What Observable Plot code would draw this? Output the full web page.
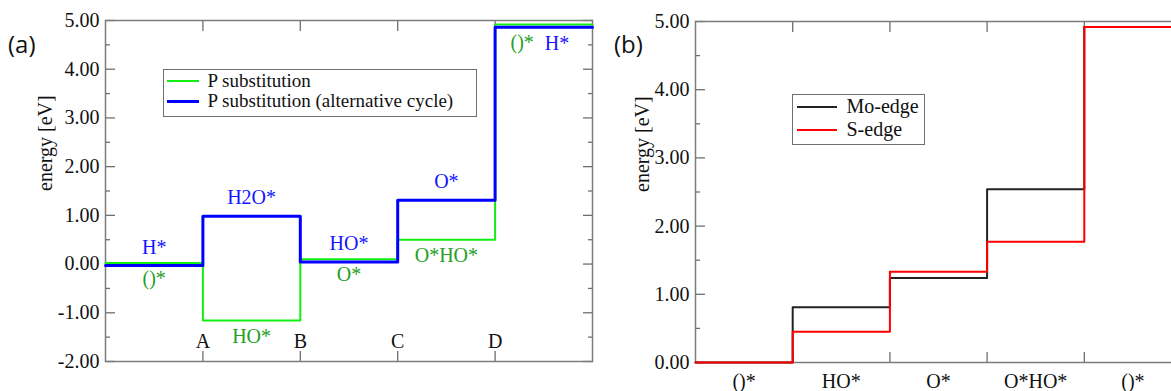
<!DOCTYPE html>
<html><head><meta charset="utf-8">
<script src="https://cdn.jsdelivr.net/npm/d3@7"></script>
<script src="https://cdn.jsdelivr.net/npm/@observablehq/plot@0.6"></script>
<style>
html,body{margin:0;padding:0;background:#fff;overflow:hidden;}
#wrap{position:relative;width:1171px;height:391px;overflow:hidden;}
.panel{position:absolute;top:0;width:600px;height:391px;}
.panel svg{max-width:none !important;width:600px;height:391px;display:block;}
.tag{position:absolute;font-family:"Open Sans",sans-serif;font-size:24px;color:#111;line-height:1;}
.legend{position:absolute;border:1.5px solid #707070;background:#fff;font-family:"Liberation Serif",serif;color:#111;box-sizing:border-box;}
.legend .row{display:flex;align-items:center;white-space:nowrap;}
.legend .sw{display:inline-block;}
.legend .tx{display:inline-block;}
</style></head><body>
<div id="wrap">
  <div id="pa" class="panel" style="left:0"></div>
  <div id="pb" class="panel" style="left:600px"></div>
  <div class="tag" style="left:8px;top:32px">(a)</div>
  <div class="tag" style="left:614px;top:32px">(b)</div>
  <div id="lega" class="legend" style="left:163px;top:69px;width:314px;height:48px;padding:1px 0 0 2.5px;font-size:19px;"></div>
  <div id="legb" class="legend" style="left:792px;top:94px;width:133px;height:51px;padding:0 0 0 3.5px;font-size:20px;"></div>
</div>
<script>
// ---------- Panel (a) data ----------
const xTicksA = [1, 2, 3, 4];
const xTickLabelsA = ["A", "B", "C", "D"];
const yMajorA = [-2, -1, 0, 1, 2, 3, 4, 5];
const yMinorA = [-1.5, -0.5, 0.5, 1.5, 2.5, 3.5, 4.5];
const seriesNamesA = ["P substitution", "P substitution (alternative cycle)"];
const greenA = [0.02, -1.16, 0.10, 0.50, 4.92];
const blueA = [-0.03, 0.98, 0.04, 1.31, 4.86];
const greenLabelsA = ["()*", "HO*", "O*", "O*HO*", "()*"];
const blueLabelsA = ["H*", "H2O*", "HO*", "O*", "H*"];

// ---------- Panel (b) data ----------
const categoriesB = ["()*", "HO*", "O*", "O*HO*", "()*"];
const xTicksB = [1, 2, 3, 4];
const yMajorB = [0, 1, 2, 3, 4, 5];
const yMinorB = [0.5, 1.5, 2.5, 3.5, 4.5];
const seriesNamesB = ["Mo-edge", "S-edge"];
const moEdgeB = [0, 0.81, 1.24, 2.54, 4.92];
const sEdgeB = [0, 0.45, 1.33, 1.77, 4.92];

// ---------- styles ----------
const GREEN = "#11ee11", GREEN_TXT = "#25a025", BLUE = "#0000ff", BLUE_TXT = "#1414ff";
const BLACK = "#222222", RED = "#ff0000";
const AXIS = "#6e6e6e";
const FONT = "'Liberation Serif', 'Times New Roman', serif";

function stepPoints(vals) {
  const pts = vals.map((v, i) => ({x: i, y: v}));
  pts.push({x: vals.length, y: vals[vals.length - 1]});
  return pts;
}
function frameTicks(major, minor, xticks) {
  return [
    Plot.axisY({ticks: major, tickSize: -10, text: null, label: null, stroke: AXIS, strokeWidth: 1.3}),
    Plot.axisY({ticks: minor, tickSize: -5, text: null, label: null, stroke: AXIS, strokeWidth: 1.3}),
    Plot.axisY({anchor: "right", ticks: major, tickSize: -10, text: null, label: null, stroke: AXIS, strokeWidth: 1.3}),
    Plot.axisY({anchor: "right", ticks: minor, tickSize: -5, text: null, label: null, stroke: AXIS, strokeWidth: 1.3}),
    Plot.axisX({ticks: xticks, tickSize: -10, text: null, label: null, stroke: AXIS, strokeWidth: 1.3}),
    Plot.axisX({anchor: "top", ticks: xticks, tickSize: -10, text: null, label: null, stroke: AXIS, strokeWidth: 1.3}),
    Plot.axisY({ticks: major, tickSize: 0, tickPadding: 6, tickFormat: d => d.toFixed(2), label: null, fill: "#111"}),
    Plot.frame({stroke: "#7c7c7c", strokeWidth: 1.5})
  ];
}

const idx = [0, 1, 2, 3];
const plotA = Plot.plot({
  width: 600, height: 391,
  marginLeft: 105, marginRight: 8, marginTop: 20, marginBottom: 30,
  x: {domain: [0, 5]}, y: {domain: [-2, 5]},
  style: {fontFamily: FONT, fontSize: "20px", background: "transparent", color: "#111"},
  marks: [
    ...frameTicks(yMajorA, yMinorA, xTicksA),
    Plot.text(xTickLabelsA, {x: (d, i) => xTicksA[i], frameAnchor: "bottom", lineAnchor: "bottom", dy: -14, text: d => d, fill: "#111"}),
    Plot.line(stepPoints(greenA), {x: "x", y: "y", curve: "step-after", stroke: GREEN, strokeWidth: 2}),
    Plot.line(stepPoints(blueA), {x: "x", y: "y", curve: "step-after", stroke: BLUE, strokeWidth: 3}),
    Plot.text(idx, {x: i => i + 0.5, y: i => blueA[i], text: i => blueLabelsA[i], lineAnchor: "bottom", dy: -12, fill: BLUE_TXT}),
    Plot.text(idx, {x: i => i + 0.5, y: i => greenA[i], text: i => greenLabelsA[i], lineAnchor: "top", dy: 8, fill: GREEN_TXT}),
    Plot.text([4], {x: i => i + 0.5, y: i => greenA[i], text: i => greenLabelsA[i], lineAnchor: "top", textAnchor: "end", dx: -10, dy: 10, fill: GREEN_TXT}),
    Plot.text([4], {x: i => i + 0.5, y: i => blueA[i], text: i => blueLabelsA[i], lineAnchor: "top", textAnchor: "start", dx: 1, dy: 8, fill: BLUE_TXT}),
    Plot.text(["energy [eV]"], {frameAnchor: "left", rotate: -90, dx: -60, text: d => d, fill: "#111"})
  ]
});
document.getElementById("pa").append(plotA);

const plotB = Plot.plot({
  width: 600, height: 391,
  marginLeft: 95, marginRight: 19, marginTop: 21, marginBottom: 29,
  x: {domain: [0, 5]}, y: {domain: [0, 5]},
  style: {fontFamily: FONT, fontSize: "20px", background: "transparent", color: "#111"},
  marks: [
    ...frameTicks(yMajorB, yMinorB, xTicksB),
    Plot.text(categoriesB, {x: (d, i) => i + 0.5, frameAnchor: "bottom", lineAnchor: "bottom", dy: 25, text: d => d, fill: "#111"}),
    Plot.line(stepPoints(moEdgeB), {x: "x", y: "y", curve: "step-after", stroke: BLACK, strokeWidth: 2}),
    Plot.line(stepPoints(sEdgeB), {x: "x", y: "y", curve: "step-after", stroke: RED, strokeWidth: 2}),
    Plot.text(["energy [eV]"], {frameAnchor: "left", rotate: -90, dx: -53, text: d => d, fill: "#111"})
  ]
});
document.getElementById("pb").append(plotB);

function legend(el, names, colors, widths, swLen, gap, rowH) {
  names.forEach((n, i) => {
    const row = document.createElement("div");
    row.className = "row";
    row.style.height = rowH + "px";
    const sw = document.createElement("span");
    sw.className = "sw";
    sw.style.width = swLen + "px";
    sw.style.height = widths[i] + "px";
    sw.style.background = colors[i];
    sw.style.marginRight = gap + "px";
    const t = document.createElement("span");
    t.className = "tx";
    t.style.lineHeight = rowH + "px";
    t.style.height = rowH + "px";
    t.textContent = n;
    row.append(sw, t);
    el.append(row);
  });
}
legend(document.getElementById("lega"), seriesNamesA, [GREEN, BLUE], [2, 3], 32, 9, 20);
legend(document.getElementById("legb"), seriesNamesB, [BLACK, RED], [2, 2], 40, 10, 23);
</script>
</body></html>
